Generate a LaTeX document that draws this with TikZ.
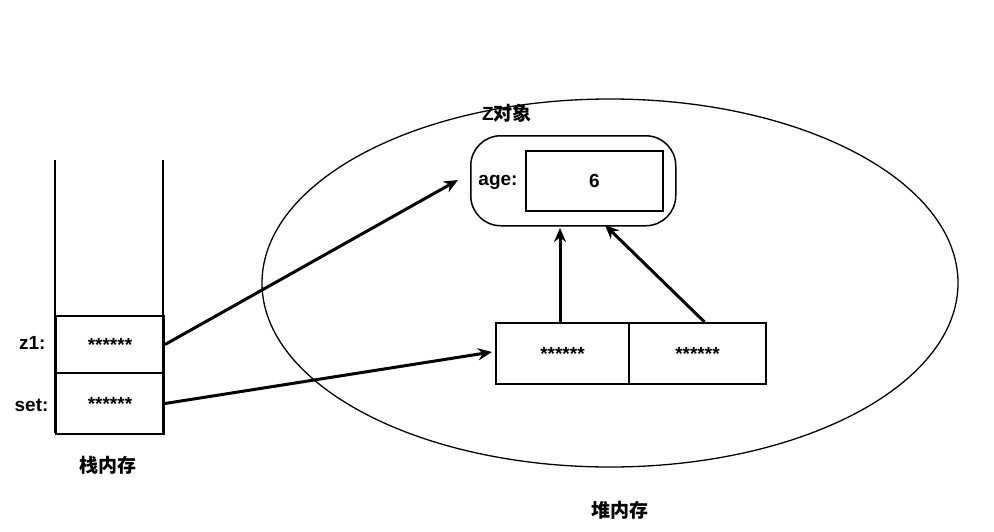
\documentclass[tikz,border=0pt]{standalone}
\usepackage{fontspec}
\setmainfont{Liberation Sans}
\newfontfamily\cjk{Noto Sans CJK SC}
\usetikzlibrary{arrows.meta}
\begin{document}
\begin{tikzpicture}[x=1pt,y=-1pt,font=\bfseries\fontsize{19}{22}\selectfont,
  box/.style={draw,line width=2pt,inner sep=0pt,anchor=north west},
  arr/.style={line width=3pt,-{Stealth[length=14pt,width=12pt]}}]
\useasboundingbox (0,0) rectangle (994,531);
\draw[line width=1.3pt] (610,283) ellipse [x radius=348, y radius=184];
\draw[line width=2pt] (55,160) -- (55,433) (163,160) -- (163,433);
\node[box,minimum width=108pt,minimum height=57pt] (z1) at (55,315) {******};
\node[box,minimum width=108pt,minimum height=61pt] (set) at (55,372) {******};
\node[anchor=east] (z1l) at (49,343) {z1:};
\node[anchor=east] (setl) at (52,405) {set:};
\node (stk) at (108,465) {\cjk\bfseries 栈内存};
\node (heap) at (620,510) {\cjk\bfseries 堆内存};
\node (zl) at (507,113) {Z\cjk\bfseries 对象};
\node[draw,line width=1.5pt,rounded corners=30pt,minimum width=205pt,minimum height=90pt,anchor=north west,inner sep=0pt] (obj) at (470,135) {};
\node[box,minimum width=137pt,minimum height=60pt] (val) at (525,150) {6};
\node (age) at (498,182) {age:};
\node[box,minimum width=133pt,minimum height=61pt] (b1) at (495,322) {******};
\node[box,minimum width=137pt,minimum height=61pt] (b2) at (628,322) {******};
\coordinate (t1) at (458,180);
\coordinate (t2) at (492,352);
\coordinate (t3) at (560,228);
\coordinate (t4) at (605,225);
\draw[arr] (z1.east) -- (t1);
\draw[arr] (set.east) -- (t2);
\draw[arr] (b1.north -| t3) -- (t3);
\draw[arr] ([xshift=7pt]b2.north) -- (t4);
\end{tikzpicture}
\end{document}
